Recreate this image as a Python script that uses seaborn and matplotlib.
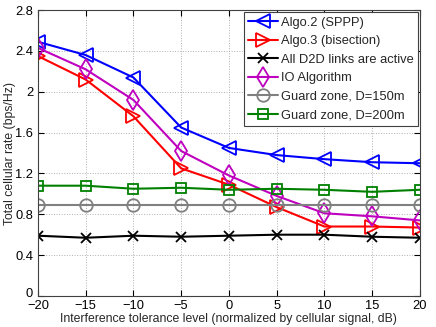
import numpy as np
import pandas as pd
import matplotlib
matplotlib.use("Agg")
import matplotlib.pyplot as plt
import matplotlib.transforms as mtransforms
import seaborn as sns

x_vals = [-20, -15, -10, -5, 0, 5, 10, 15, 20]
algo2 = [2.49, 2.36, 2.14, 1.65, 1.45, 1.38, 1.34, 1.31, 1.30]
algo3 = [2.35, 2.12, 1.76, 1.25, 1.09, 0.87, 0.68, 0.68, 0.67]
all_d2d = [0.59, 0.57, 0.59, 0.58, 0.59, 0.60, 0.60, 0.58, 0.57]
io_alg = [2.43, 2.22, 1.92, 1.42, 1.18, 0.98, 0.81, 0.78, 0.74]
guard150 = [0.89, 0.89, 0.89, 0.89, 0.89, 0.89, 0.89, 0.89, 0.89]
guard200 = [1.08, 1.08, 1.05, 1.06, 1.04, 1.05, 1.04, 1.02, 1.04]

labels = ["Algo.2 (SPPP)", "Algo.3 (bisection)", "All D2D links are active",
          "IO Algorithm", "Guard zone, D=150m", "Guard zone, D=200m"]
series = [algo2, algo3, all_d2d, io_alg, guard150, guard200]
colors = ["#0000ff", "#ff0000", "#000000", "#bf00bf", "#808080", "#008000"]
markers = ["<", ">", "x", "d", "o", "s"]
msizes = [10, 10, 7, 10, 9, 7.5]

sns.set_style("white")
plt.rcParams['font.family'] = ['Liberation Sans', 'DejaVu Sans']

fig = plt.figure(figsize=(4.36, 3.27), dpi=100)
ax = fig.add_axes([0.087, 0.095, 0.876, 0.874])

for lab, vals, c, m, ms in zip(labels, series, colors, markers, msizes):
    df = pd.DataFrame({"x": x_vals, "y": vals})
    sns.lineplot(data=df, x="x", y="y", ax=ax, color=c, marker=m, markersize=ms,
                 markerfacecolor="none", markeredgecolor=c, markeredgewidth=1.3,
                 linewidth=1.5, label=lab)

ax.set_xlim(-20, 20)
ax.set_ylim(0, 2.8)
ax.set_xticks([-20, -15, -10, -5, 0, 5, 10, 15, 20])
ax.set_xticklabels(["\u221220", "\u221215", "\u221210", "\u22125", "0", "5", "10", "15", "20"])
ax.set_yticks([0, 0.4, 0.8, 1.2, 1.6, 2.0, 2.4, 2.8])
ax.set_yticklabels(["0", "0.4", "0.8", "1.2", "1.6", "2", "2.4", "2.8"])
ax.grid(True, linestyle=":", color="#b0b0b0", linewidth=0.7)
ax.tick_params(direction="in", length=4, labelsize=9.3, top=True, right=True,
               bottom=True, left=True, colors="black")
ax.tick_params(axis="x", pad=3)
ax.tick_params(axis="y", pad=3.5)
for sp in ax.spines.values():
    sp.set_color("#404040")
    sp.set_linewidth(0.8)
ax.set_xlabel("Interference tolerance level (normalized by cellular signal, dB)", fontsize=8.8)
ax.set_ylabel("Total cellular rate (bps/Hz)", fontsize=8.8)
ax.yaxis.set_label_coords(-0.073, 0.5)
ax.xaxis.set_label_coords(0.5, -0.080)
ax.xaxis.label.set_verticalalignment("center")
ax.yaxis.label.set_verticalalignment("center")

# nudge the y "0" label up slightly so it does not collide with "-20"
zero_lab = ax.yaxis.get_major_ticks()[0].label1
zero_lab.set_transform(zero_lab.get_transform() +
                       mtransforms.ScaledTranslation(0, 2.5 / 72, fig.dpi_scale_trans))

leg = ax.legend(loc="upper right", fontsize=9.3, frameon=True, fancybox=False,
                edgecolor="#404040", framealpha=1, borderpad=0.35, labelspacing=0.5,
                handlelength=2.3, handletextpad=0.2, borderaxespad=0.15)
leg.get_frame().set_linewidth(0.8)

fig.savefig("out.png", dpi=100)
